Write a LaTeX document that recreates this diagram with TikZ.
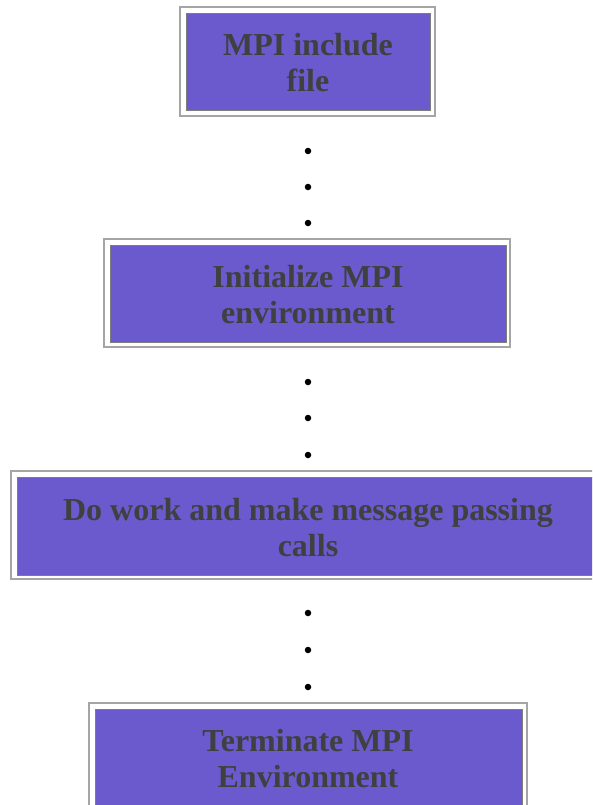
\documentclass[tikz,border=0pt]{standalone}
\usepackage{fontspec}
\setmainfont{Liberation Serif}
\usetikzlibrary{fit}
\definecolor{cellfill}{RGB}{106,90,205}
\definecolor{steptextcol}{RGB}{64,64,64}
\definecolor{framegray}{RGB}{165,165,165}
\definecolor{celledge}{RGB}{125,125,125}
\begin{document}
\begin{tikzpicture}[x=1pt,y=-1pt,
  frame/.style={draw=framegray, line width=1.5pt, fill=white, inner sep=0pt, outer sep=0pt},
  cell/.style={draw=celledge, line width=0.8pt, fill=cellfill, inner sep=0pt, outer sep=0pt},
  steptext/.style={text=steptextcol, align=center, inner sep=0pt,
    font=\bfseries\fontsize{32}{36}\selectfont},
  dotmark/.style={circle, fill=black, inner sep=0pt, minimum size=6.5pt}
]
\useasboundingbox (0,0) rectangle (592,805);
\clip (0,0) rectangle (592,805);

% step 1
\node[frame, fit={(180,7) (435,116)}] (o1) {};
\node[cell, fit={(186,13) (430,110)}] (c1) {};
\node[steptext] (t1) at (308,62.2) {MPI include\\file};

% step 2
\node[frame, fit={(104,239) (510,347)}] (o2) {};
\node[cell, fit={(110,245) (506,342)}] (c2) {};
\node[steptext] (t2) at (308,294.2) {Initialize MPI\\environment};

% step 3 (wider than the page, cut at the right edge)
\node[frame, fit={(11,471) (610,579)}] (o3) {};
\node[cell, fit={(17,477) (605,575)}] (c3) {};
\node[steptext] (t3) at (308,527.2) {Do work and make message passing\\calls};

% step 4 (cut at the bottom edge)
\node[frame, fit={(89,703) (527,825)}] (o4) {};
\node[cell, fit={(95,709) (522,820)}] (c4) {};
\node[steptext] (t4) at (308,758.2) {Terminate MPI\\Environment};

% ellipsis dots between the steps
\foreach \y [count=\i] in {151,187,223,382,418,455,613,650,687}
  \node[dotmark] (d\i) at (308,\y) {};
\end{tikzpicture}
\end{document}
